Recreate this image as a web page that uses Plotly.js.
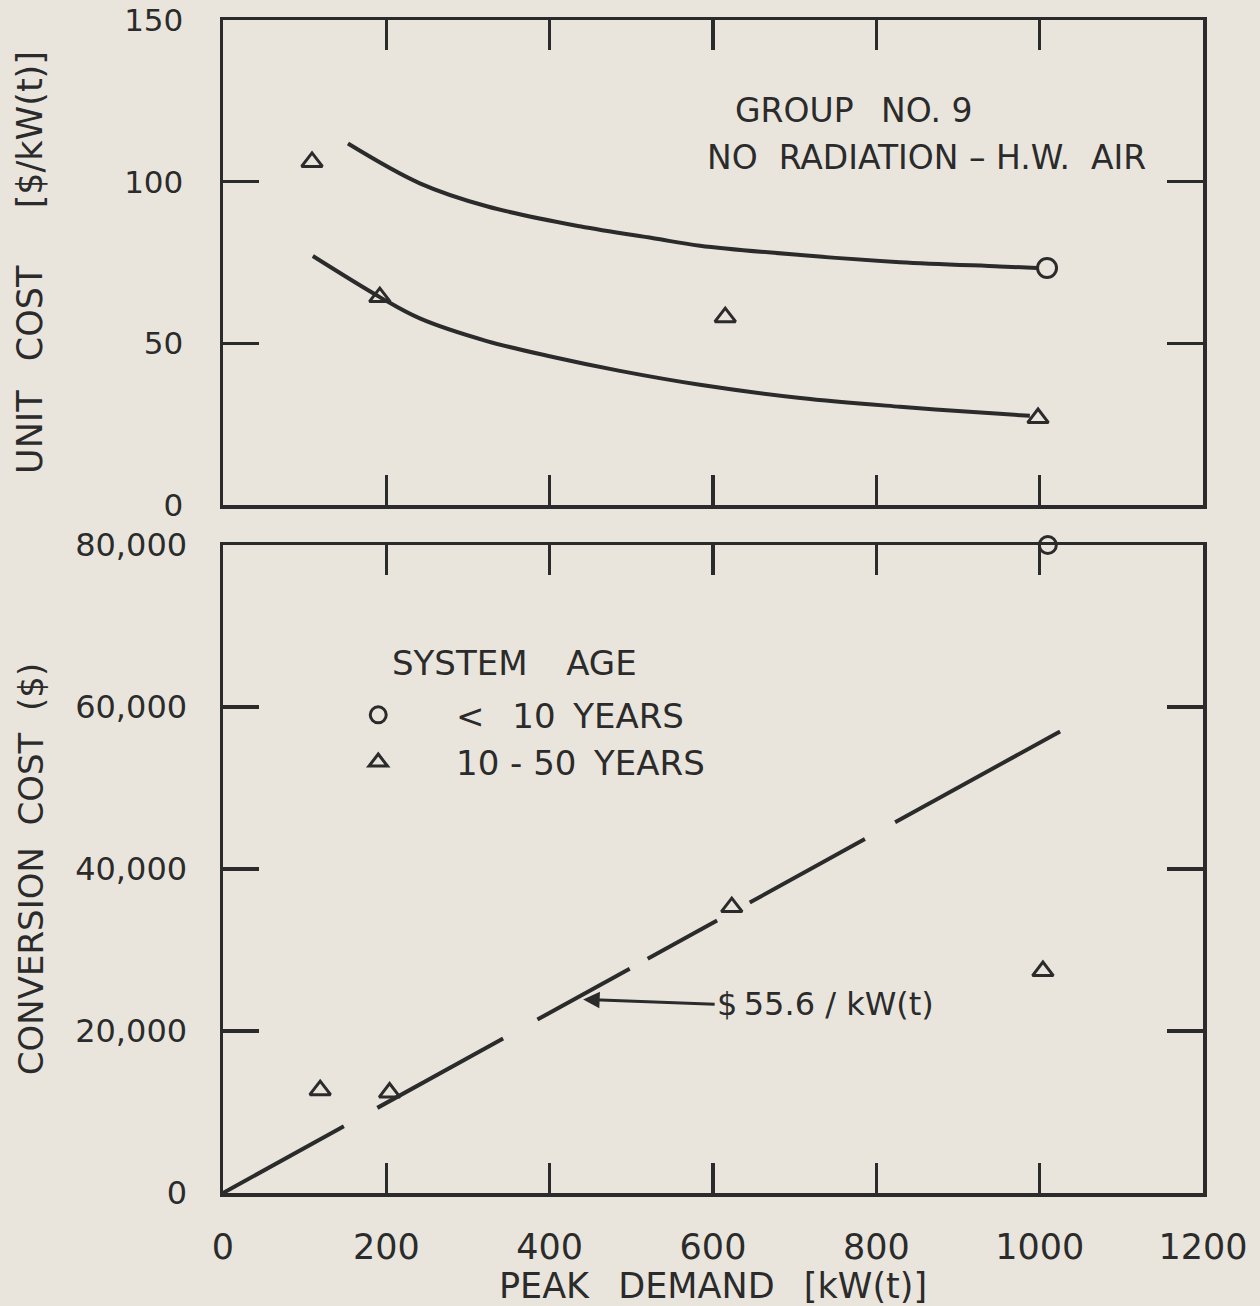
<!DOCTYPE html>
<html>
<head>
<meta charset="utf-8">
<script src="https://cdn.plot.ly/plotly-3.0.1.min.js"></script>
<style>
html,body{margin:0;padding:0;background:#e9e5dd;}
#chart{width:1260px;height:1306px;}
</style>
</head>
<body>
<div id="chart"></div>
<script>
// ---- data ----
const xTickVals = [0, 200, 400, 600, 800, 1000, 1200];
const xTickText = ['0', '200', '400', '600', '800', '1000', '1200'];

// top panel: unit cost [$/kW(t)]
const unitTickVals = [0, 50, 100, 150];
const unitTickText = ['0', '50', '100', '150'];
const unitUpperCurveX = [153, 241, 323, 437, 527, 584, 707, 829, 951, 997];
const unitUpperCurveY = [111.8, 99.5, 92.4, 86.2, 82.5, 80.2, 77.3, 75.1, 73.8, 73.3];
const unitLowerCurveX = [110, 192, 241, 323, 404, 486, 584, 707, 829, 951, 988];
const unitLowerCurveY = [77.0, 64.3, 57.7, 50.7, 45.8, 41.5, 37.2, 33.1, 30.4, 28.2, 27.6];
const unitOldX = [109, 192, 615, 998];        // 10-50 years (triangles)
const unitOldY = [106.1, 64.3, 58.1, 26.9];
const unitNewX = [1009];                      // < 10 years (circles)
const unitNewY = [73.3];

// bottom panel: conversion cost ($)
const costTickVals = [0, 20000, 40000, 60000, 80000];
const costTickText = ['0', '20,000', '40,000', '60,000', '80,000'];
const costOldX = [119, 204, 623, 1004];
const costOldY = [12700, 12400, 35300, 27400];
const costNewX = [1010];
const costNewY = [80000];
// fitted line $55.6/kW(t), drawn as broken segments (null = gap)
const fitX = [0, 148, null, 189, 343, null, 385, 498, null, 520, 605, null, 645, 786, null, 823, 1025];
const fitY = [0, 8230, null, 10510, 19070, null, 21410, 27690, null, 28910, 33640, null, 35860, 43700, null, 45760, 56990];

const fitLabel = '$\u200955.6 / kW(t)';
const groupLine1 = 'GROUP  \u2009NO. 9';
const groupLine2 = 'NO  RADIATION – H.W.  AIR';
const legendTitle = 'SYSTEM  \u2002AGE';
const legendNew = '\u2003\u2002\u2009<\u2002 10 \u2009YEARS';
const legendOld = '\u2003\u2002\u200910 - 50 \u2009YEARS';

// ---- styling ----
const ink = '#2b2b2b';
const paper = '#e9e5dd';
const FONT = 'DejaVu Sans, Liberation Sans, sans-serif';

const traces = [
  {x: unitUpperCurveX, y: unitUpperCurveY, xaxis: 'x', yaxis: 'y', mode: 'lines',
   line: {color: ink, width: 4, shape: 'spline', smoothing: 1}, showlegend: false, hoverinfo: 'skip'},
  {x: unitLowerCurveX, y: unitLowerCurveY, xaxis: 'x', yaxis: 'y', mode: 'lines',
   line: {color: ink, width: 4, shape: 'spline', smoothing: 1}, showlegend: false, hoverinfo: 'skip'},
  {x: unitOldX, y: unitOldY, xaxis: 'x', yaxis: 'y', mode: 'markers',
   marker: {symbol: 'triangle-up-open', size: 18, color: ink, line: {width: 3, color: ink}}, showlegend: false},
  {x: unitNewX, y: unitNewY, xaxis: 'x', yaxis: 'y', mode: 'markers', cliponaxis: false,
   marker: {symbol: 'circle', size: 19, color: paper, line: {width: 3, color: ink}}, showlegend: false},

  {x: fitX, y: fitY, xaxis: 'x2', yaxis: 'y2', mode: 'lines', connectgaps: false,
   line: {color: ink, width: 4}, showlegend: false, hoverinfo: 'skip'},
  {x: costNewX, y: costNewY, xaxis: 'x2', yaxis: 'y2', mode: 'markers', cliponaxis: false,
   name: legendNew,
   marker: {symbol: 'circle', size: 17, color: paper, line: {width: 3, color: ink}}},
  {x: costOldX, y: costOldY, xaxis: 'x2', yaxis: 'y2', mode: 'markers',
   name: legendOld,
   marker: {symbol: 'triangle-up-open', size: 18, color: ink, line: {width: 3, color: ink}}}
];

const axisCommon = {
  showline: true, linecolor: ink, linewidth: 3.5, mirror: 'allticks',
  ticks: 'inside', tickcolor: ink, tickwidth: 3.5,
  showgrid: false, zeroline: false, fixedrange: true
};

const layout = {
  width: 1260, height: 1306,
  margin: {l: 223, r: 57, t: 20, b: 113},
  paper_bgcolor: paper, plot_bgcolor: paper,
  font: {family: FONT, color: ink, size: 33},
  showlegend: true,
  legend: {
    x: 0.138, y: 0.432, xanchor: 'left', yanchor: 'top',
    bgcolor: 'rgba(0,0,0,0)', borderwidth: 0,
    font: {size: 34, family: FONT, color: ink},
    itemwidth: 30, tracegroupgap: 0
  },
  xaxis: Object.assign({}, axisCommon, {
    domain: [0, 1], anchor: 'y', range: [0, 1200],
    tickvals: xTickVals, showticklabels: false, ticklen: 30
  }),
  yaxis: Object.assign({}, axisCommon, {
    domain: [0.5865, 1], anchor: 'x', range: [0, 150],
    tickvals: unitTickVals, ticktext: unitTickText, ticklen: 36,
    tickfont: {size: 31, family: FONT, color: ink}, ticklabelstandoff: 30,
    title: {text: 'UNIT  \u2009COST  \u2003[$/kW(t)]', font: {size: 35, family: FONT, color: ink}, standoff: 72}
  }),
  xaxis2: Object.assign({}, axisCommon, {
    domain: [0, 1], anchor: 'y2', range: [0, 1200],
    tickvals: xTickVals, ticktext: xTickText, ticklen: 30,
    tickfont: {size: 35, family: FONT, color: ink}, ticklabelstandoff: 20,
    title: {text: 'PEAK  \u2009DEMAND  \u2009[kW(t)]', font: {size: 35, family: FONT, color: ink}, standoff: 8}
  }),
  yaxis2: Object.assign({}, axisCommon, {
    domain: [0, 0.5524], anchor: 'x2', range: [0, 80000],
    tickvals: costTickVals, ticktext: costTickText, ticklen: 36,
    tickfont: {size: 32, family: FONT, color: ink}, ticklabelstandoff: 26,
    title: {text: 'CONVERSION  COST  ($)', font: {size: 34, family: FONT, color: ink}, standoff: 22}
  }),
  annotations: [
    {xref: 'x', yref: 'y', x: 625, y: 122, xanchor: 'left', yanchor: 'middle',
     text: groupLine1, showarrow: false, font: {size: 33, family: FONT, color: ink}},
    {xref: 'x', yref: 'y', x: 590, y: 107.5, xanchor: 'left', yanchor: 'middle',
     text: groupLine2, showarrow: false, font: {size: 33, family: FONT, color: ink}},
    {xref: 'paper', yref: 'paper', x: 0.170, y: 0.452, xanchor: 'left', yanchor: 'middle',
     text: legendTitle, showarrow: false, font: {size: 34, family: FONT, color: ink}},
    {xref: 'x2', yref: 'y2', x: 441, y: 23900, axref: 'x2', ayref: 'y2', ax: 602, ay: 23300,
     xanchor: 'left', yanchor: 'middle', text: fitLabel, showarrow: true,
     arrowhead: 2, arrowsize: 1.1, arrowwidth: 3, arrowcolor: ink, standoff: 0, startstandoff: 0,
     font: {size: 32, family: FONT, color: ink}}
  ]
};

Plotly.newPlot('chart', traces, layout, {displayModeBar: false, staticPlot: true});
</script>
</body>
</html>
